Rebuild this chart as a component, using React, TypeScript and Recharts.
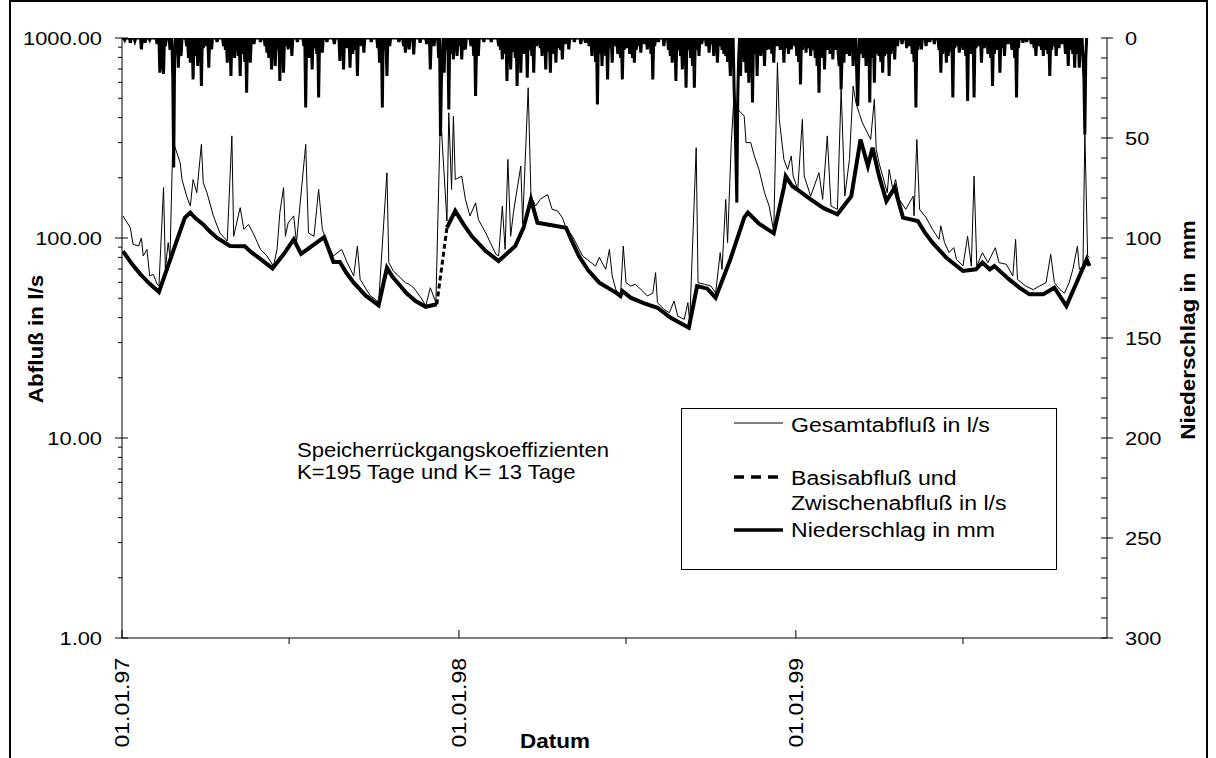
import React from "react";
import { LineChart, Line, XAxis, YAxis } from "recharts";

const W = 1216;
const H = 758;
// plot frame in page pixels
const PL = 122;
const PR = 1107;
const PT = 38;
const PB = 638;
const FONT = "'Liberation Sans', Arial, Helvetica, sans-serif";

// x = days since 01.01.1997
const totalDays = [
  1, 9, 12, 18, 21, 23, 27, 30, 34, 38, 40, 45, 47, 50, 52, 55, 57, 63, 65, 70, 74, 77, 81, 86, 88, 92, 99, 106, 114, 119,
  121, 128, 132, 137, 142, 150, 157, 164, 168, 171, 175, 177, 180, 186, 189, 199, 202, 208, 213, 217, 222, 229, 238, 244,
  251, 255, 258, 269, 273, 278, 287, 289, 294, 307, 311, 316, 325, 329, 334, 340, 345, 352, 354, 357, 359, 361, 368, 372,
  377, 383, 386, 394, 405, 408, 412, 415, 418, 421, 424, 432, 434, 440, 443, 448, 453, 461, 466, 472, 477, 481, 488, 499,
  513, 517, 524, 528, 531, 535, 540, 543, 546, 551, 556, 564, 569, 575, 578, 580, 587, 593, 598, 602, 609, 613, 615, 622,
  624, 631, 638, 643, 648, 650, 654, 656, 660, 663, 667, 674, 676, 681, 685, 690, 696, 701, 706, 710, 712, 717, 721, 725,
  727, 732, 737, 739, 746, 755, 759, 764, 768, 775, 779, 783, 788, 792, 795, 799, 802, 811, 815, 817, 820, 826, 829, 831,
  835, 838, 842, 849, 857, 858, 861, 864, 871, 878, 885, 887, 891, 896, 901, 904, 911, 916, 920, 923, 926, 932, 938, 946,
  950, 958, 965, 968, 970, 979, 987, 994, 1001, 1006, 1010, 1016, 1021, 1026, 1030, 1035, 1037, 1041, 1043, 1046, 1048,
];
const totalFlow = [
  129, 112.6, 93, 91.2, 100, 81.3, 87.7, 64.6, 65.8, 58.7, 57.5, 178.6, 69.7, 94.8, 80, 300, 288, 238, 196, 162, 144.5, 196,
  168.5, 294, 189, 168.5, 129, 106, 96.6, 324, 102, 141.8, 110.5, 117, 106, 87.7, 81.3, 72.4, 87.7, 134, 178.6, 102, 119,
  129, 94.8, 294, 106, 102, 175, 110.5, 94.8, 81.3, 87.7, 75.3, 64.6, 91.2, 62.1, 51.3, 50, 47.5, 212, 75.3, 68.4, 59.8,
  58.7, 56.4, 49.4, 45.7, 56.4, 47.5, 420, 121.6, 423, 175, 407, 196, 204, 156, 129, 150, 124, 106, 82.9, 81.3, 144.5, 87.7,
  247, 102, 134, 229, 118, 564, 162, 144.5, 156, 165, 139, 136.5, 126.4, 112.6, 102, 81.3, 72.4, 80, 69.7, 87.7, 64.6, 55.2,
  51.3, 91.2, 59.8, 57.5, 58.7, 54.3, 51.3, 53, 67.1, 47.5, 44, 42.3, 48.4, 40.7, 39.2, 47.5, 38, 283, 59.8, 58.7, 57.5, 53,
  84.5, 69.7, 156, 94.8, 300, 520, 440, 407, 300, 300, 257, 220, 168.5, 144.5, 108, 753, 392, 247, 220, 257, 204, 175, 392,
  204, 162, 212, 156, 324, 144.5, 139, 554, 162, 247, 575, 475, 415, 377, 311, 494, 277, 238, 189, 168.5, 220, 175, 196, 156,
  139, 162, 129, 311, 139, 126.4, 110.5, 98.5, 115, 94.8, 84.5, 89.5, 78.2, 72.4, 102, 72.4, 204, 72.4, 84.5, 75.3, 89.5,
  75.3, 73.9, 64.6, 98.5, 62.1, 57.5, 55.2, 57.5, 59.8, 82.9, 59.8, 55.2, 53, 59.8, 69.7, 91.2, 69.7, 72.4, 340, 81.3, 80,
];

// base flow (thick); null = gap where the dashed segment takes over
const baseDays = [
  1, 10, 20, 30, 40, 68, 74, 80, 88, 95, 103, 117, 133, 140, 148, 163, 175, 186, 194, 219, 229, 236, 243, 251, 264, 278,
  287, 293, 300, 308, 318, 329, 341, 346, 352, 361, 370, 379, 394, 408, 426, 435, 443, 450, 481, 488, 495, 505, 517, 535,
  540, 542, 551, 565, 580, 594, 614, 623, 634, 643, 659, 674, 678, 690, 706, 717, 719, 726, 735, 746, 760, 775, 790, 800,
  808, 813, 820, 828, 837, 846, 862, 870, 878, 893, 911, 925, 932, 940, 945, 961, 972, 983, 998, 1010, 1023, 1045, 1048,
];
const baseFlow = [
  86, 75, 65.8, 59, 53.7, 126, 134, 125, 117, 108, 100, 91.2, 91, 85, 79.7, 70.5, 82.9, 98.5, 83.3, 101, 75.9, 75.9, 67,
  59.8, 51.5, 46.1, 71, 64, 58.7, 53, 48.4, 45.3, 46.6, null, 112.6, 136.5, 117, 102, 86.1, 76.7, 91.2, 112.6, 156, 119.3,
  112.6, 95, 81.3, 69, 59.8, 53.3, 51.3, 54.3, 50.3, 47.3, 44.8, 40, 35.6, 57.5, 55.8, 50.3, 78.2, 126.4, 134, 118, 105.5,
  178.5, 204, 182, 170, 156, 141, 131.4, 162, 311, 229, 283, 205, 153, 178.5, 126.4, 121.6, 106, 94.8, 79.7, 68.4, 69.7,
  75.3, 69.7, 72.4, 62.1, 56.5, 52.3, 52.3, 56.4, 45.7, 78.2, 72.4,
];

// dashed segment (Dec 1997)
const interDays = [341, 352];
const interFlow = [46.6, 112.6];

// daily precipitation [day, mm], only rainy days listed
const rain: [number, number][] = [
  [3, 1], [9, 2.3], [14, 1.5], [21, 5.7], [25, 2.3], [30, 1], [38, 3], [41, 17.3], [42, 12], [44, 8], [45, 18], [47, 4],
  [52, 6], [55, 20], [56, 64.8], [57, 10], [59, 6], [61, 14.8], [63, 5], [64, 9], [70, 4], [72, 10], [74, 12.3], [75, 8],
  [77, 20.7], [79, 9], [80, 6], [82, 14], [84, 7], [86, 24], [88, 5], [91, 4], [94, 14.8], [97, 5.7], [103, 2], [110, 4],
  [112, 6], [114, 12.3], [116, 8], [118, 19], [120, 6], [122, 10], [124, 5.7], [126, 9], [128, 19], [130, 8], [133, 12],
  [135, 27.3], [137, 8], [139, 12.3], [143, 3], [150, 2], [155, 4], [157, 7.3], [159, 10], [162, 15.7], [164, 8], [166, 14],
  [168, 6], [171, 21.5], [173, 10], [175, 17.3], [177, 4], [180, 5.7], [184, 9], [190, 2], [197, 4], [199, 34.8], [201, 6],
  [203, 10], [206, 15.7], [208, 5], [211, 8], [213, 29.8], [215, 4], [217, 7.3], [222, 2], [230, 3], [236, 11.5], [238, 6],
  [240, 15.7], [243, 5], [247, 14.8], [250, 8], [252, 6], [255, 19], [258, 4], [262, 7.3], [270, 2], [277, 5], [279, 12.3],
  [280, 8], [282, 34.8], [284, 6], [287, 19], [290, 4], [300, 2], [305, 4], [307, 7.3], [311, 5.7], [316, 8.2], [323, 2.3],
  [330, 3], [334, 15.7], [338, 4], [343, 10], [345, 49], [346, 22], [347, 9], [349, 17.3], [351, 6], [354, 35.7], [356, 8],
  [359, 10.7], [361, 5], [363, 9], [366, 4], [368, 10.7], [370, 6], [372, 5.7], [378, 4], [381, 9], [383, 29], [384, 6],
  [386, 9], [392, 2], [400, 2], [408, 4], [410, 6], [412, 10.7], [415, 8], [417, 21.5], [419, 9], [421, 15.7], [424, 7],
  [426, 10], [428, 24], [430, 9], [432, 17.3], [435, 8], [437, 5], [439, 19.8], [441, 6], [444, 9], [446, 17.3], [449, 4],
  [453, 5], [455, 9], [457, 4], [459, 15.7], [461, 7], [464, 17.3], [466, 5], [468, 8], [470, 12.3], [472, 5], [475, 6],
  [477, 10.7], [480, 3], [484, 5.7], [490, 2], [497, 3], [502, 2.3], [506, 4], [509, 9], [511, 6], [513, 12], [515, 33.2],
  [517, 8], [520, 14], [522, 6], [524, 9], [526, 20.7], [528, 5], [531, 12.3], [534, 4], [537, 8], [540, 10], [542, 20.7],
  [544, 6], [547, 5], [550, 8], [553, 10], [555, 12.3], [557, 6], [560, 4], [562, 7.3], [566, 3], [569, 5.7], [573, 8],
  [575, 20.7], [577, 4], [581, 2], [587, 4], [592, 6], [594, 9], [596, 12.3], [598, 8], [600, 21.5], [602, 6], [605, 9],
  [607, 15.7], [609, 7], [611, 24.8], [613, 6], [616, 10], [618, 14], [620, 24.8], [622, 6], [625, 9], [628, 3], [633, 4],
  [636, 7.3], [638, 3], [641, 9], [643, 6], [645, 12.3], [647, 4], [650, 6], [652, 8], [654, 9], [656, 12], [658, 8],
  [659, 19], [661, 14], [663, 24], [664, 40], [665, 60], [666, 82.3], [667, 30], [668, 10], [670, 19], [672, 8], [674, 12],
  [676, 17.3], [677, 9], [679, 22.3], [681, 10], [683, 32.3], [685, 8], [688, 19], [690, 6], [692, 9], [694, 5], [696, 14],
  [698, 6], [701, 5.7], [704, 8], [706, 12.3], [710, 4], [713, 6], [717, 12.3], [720, 5], [722, 8], [725, 5.7], [729, 4],
  [731, 9], [733, 12], [735, 23.2], [737, 6], [741, 7.3], [744, 5], [746, 9], [749, 6], [751, 10], [753, 14], [755, 27.3],
  [757, 8], [759, 10], [761, 15.7], [764, 6], [767, 8], [770, 10.7], [773, 6], [776, 9], [777, 14], [779, 25.7], [780, 9],
  [782, 12.3], [785, 8], [788, 9], [790, 6], [792, 14], [794, 8], [796, 20], [797, 34], [798, 12], [800, 8], [803, 10],
  [806, 14], [808, 9], [810, 32.3], [812, 10], [815, 22.3], [817, 8], [820, 9], [822, 12], [824, 17.3], [826, 9], [829, 8],
  [831, 19], [833, 8], [835, 6], [837, 10.7], [840, 4], [845, 3], [850, 5], [853, 4], [856, 8], [858, 12], [860, 34.8],
  [862, 6], [864, 3], [866, 5.7], [871, 4], [875, 2], [880, 3], [885, 6], [887, 17.3], [889, 8], [891, 6], [893, 12.3],
  [895, 9], [898, 7], [900, 29.8], [902, 5], [904, 4], [907, 7.3], [911, 6], [914, 9], [916, 31.5], [918, 6], [920, 8],
  [923, 29.8], [925, 5], [928, 4], [931, 12.3], [934, 5], [938, 8], [941, 10], [943, 24], [945, 8], [948, 6], [951, 17.3],
  [953, 5], [956, 9], [960, 3], [964, 6], [967, 10], [969, 29.8], [971, 5], [976, 2.3], [980, 2], [985, 3], [988, 5],
  [990, 9], [993, 4], [996, 6], [998, 9], [1001, 6], [1003, 8], [1005, 19], [1007, 6], [1010, 4], [1012, 9], [1015, 5],
  [1018, 3], [1022, 8], [1025, 14], [1027, 6], [1030, 8], [1032, 14.8], [1034, 8], [1037, 14.8], [1039, 5], [1041, 10],
  [1042, 20], [1043, 48.2], [1044, 10],
];
const rainLastDay = 1046;

const dayTicks = [0, 181, 365, 546, 730, 911];
const yearTicks = [0, 365, 730];
const yearLabels = ["01.01.97", "01.01.98", "01.01.99"];
const flowTicks = [
  1, 2, 3, 4, 5, 6, 7, 8, 9, 10, 20, 30, 40, 50, 60, 70, 80, 90, 100, 200, 300, 400, 500, 600, 700, 800, 900, 1000,
];
const flowMajor = [1, 10, 100, 1000];
const rainTicks = [
  0, 10, 20, 30, 40, 50, 60, 70, 80, 90, 100, 110, 120, 130, 140, 150, 160, 170, 180, 190, 200, 210, 220, 230, 240, 250, 260,
  270, 280, 290, 300,
];

const totalData = totalDays.map((day, i) => ({ day, q: totalFlow[i] }));
const baseData = baseDays.map((day, i) => ({ day, q: baseFlow[i] }));
const interData = interDays.map((day, i) => ({ day, q: interFlow[i] }));
const rainMap = new Map(rain);
const rainData = Array.from({ length: rainLastDay + 1 }, (_, day) => ({ day, p: rainMap.get(day) ?? 0 }));

function Txt(props: any) {
  const { x, y, size, bold, anchor = "start", rotate = 0, stretch = 1, children } = props;
  return (
    <g transform={`translate(${x},${y}) rotate(${rotate}) scale(${stretch},1)`}>
      <text
        x={0}
        y={0}
        fontFamily={FONT}
        fontSize={size}
        fontWeight={bold ? "bold" : "normal"}
        textAnchor={anchor}
        fill="#000"
        style={{ whiteSpace: "pre" }}
      >
        {children}
      </text>
    </g>
  );
}

const FlowTick = (props: any) => {
  const { y, payload } = props;
  const v = payload.value;
  const major = flowMajor.includes(v);
  return (
    <g>
      <line x1={major ? PL - 7 : PL - 4} x2={major ? PL + 6 : PL} y1={y} y2={y} stroke="#000" />
      {major && (
        <Txt x={102} y={y + 7} size={19} stretch={1.15} anchor="end">
          {v.toFixed(2)}
        </Txt>
      )}
    </g>
  );
};

const RainTick = (props: any) => {
  const { y, payload } = props;
  const v = payload.value;
  const major = v % 50 === 0;
  return (
    <g>
      <line x1={PR - 6} x2={major ? PR + 6 : PR} y1={y} y2={y} stroke="#000" />
      {major && (
        <Txt x={1125} y={y + 7} size={19} stretch={1.15}>
          {String(v)}
        </Txt>
      )}
    </g>
  );
};

const DayTick = (props: any) => {
  const { x, payload } = props;
  const idx = yearTicks.indexOf(payload.value);
  const major = idx >= 0;
  return (
    <g>
      <line x1={x} x2={x} y1={major ? PB - 8 : PB} y2={major ? PB : PB + 6} stroke="#000" />
      {major && (
        <Txt x={x + 7} y={PB + 20} size={20} stretch={1.15} rotate={-90} anchor="end">
          {yearLabels[idx]}
        </Txt>
      )}
    </g>
  );
};

export default function App() {
  return (
    <div style={{ position: "absolute", left: 0, top: 0, width: W, height: H, background: "#fff" }}>
      <LineChart width={W} height={H} margin={{ top: PT, right: 29, bottom: 20, left: 22 }}>
        <XAxis
          dataKey="day"
          type="number"
          domain={[0, 1067]}
          ticks={dayTicks}
          interval={0}
          height={100}
          allowDataOverflow
          tickLine={false}
          axisLine={{ stroke: "#000" }}
          tick={<DayTick />}
        />
        <YAxis
          yAxisId="q"
          scale="log"
          domain={[1, 1000]}
          ticks={flowTicks}
          interval={0}
          width={100}
          allowDataOverflow
          tickLine={false}
          axisLine={{ stroke: "#000" }}
          tick={<FlowTick />}
        />
        <YAxis
          yAxisId="p"
          orientation="right"
          domain={[0, 300]}
          reversed
          ticks={rainTicks}
          interval={0}
          width={80}
          allowDataOverflow
          tickLine={false}
          axisLine={{ stroke: "#000" }}
          tick={<RainTick />}
        />
        <Line
          yAxisId="q"
          data={totalData}
          dataKey="q"
          type="linear"
          stroke="#000"
          strokeWidth={1}
          dot={false}
          isAnimationActive={false}
        />
        <Line
          yAxisId="q"
          data={baseData}
          dataKey="q"
          type="linear"
          stroke="#000"
          strokeWidth={4}
          dot={false}
          connectNulls={false}
          isAnimationActive={false}
        />
        <Line
          yAxisId="q"
          data={interData}
          dataKey="q"
          type="linear"
          stroke="#000"
          strokeWidth={3}
          strokeDasharray="5 3"
          dot={false}
          isAnimationActive={false}
        />
        <Line
          yAxisId="p"
          data={rainData}
          dataKey="p"
          type="linear"
          stroke="#000"
          strokeWidth={3}
          dot={false}
          isAnimationActive={false}
        />
      </LineChart>

      <svg width={W} height={H} style={{ position: "absolute", left: 0, top: 0, pointerEvents: "none" }}>
        <rect x={10} y={1} width={1197} height={780} fill="none" stroke="#000" strokeWidth={2} />

        <Txt x={43} y={339} size={21} bold rotate={-90} anchor="middle" stretch={1.07}>
          Abfluß in l/s
        </Txt>
        <Txt x={1195} y={330} size={21} bold rotate={-90} anchor="middle" stretch={1.07}>
          {"Niederschlag in  mm"}
        </Txt>
        <Txt x={555} y={748} size={21} bold anchor="middle" stretch={1.07}>
          Datum
        </Txt>

        <Txt x={297} y={457} size={21} stretch={1.05}>
          Speicherrückgangskoeffizienten
        </Txt>
        <Txt x={297} y={479} size={21} stretch={1.05}>
          {"K=195 Tage und K= 13 Tage"}
        </Txt>

        <rect x={681.5} y={408.5} width={375} height={161} fill="#fff" stroke="#000" strokeWidth={1} />
        <line x1={734} x2={783} y1={423} y2={423} stroke="#000" strokeWidth={1} />
        <Txt x={791} y={432} size={21} stretch={1.1}>
          Gesamtabfluß in l/s
        </Txt>
        <line x1={734} x2={783} y1={477} y2={477} stroke="#000" strokeWidth={3.5} strokeDasharray="10 7" />
        <Txt x={791} y={485} size={21} stretch={1.1}>
          Basisabfluß und
        </Txt>
        <Txt x={791} y={510} size={21} stretch={1.1}>
          Zwischenabfluß in l/s
        </Txt>
        <line x1={734} x2={783} y1={530} y2={530} stroke="#000" strokeWidth={3.5} />
        <Txt x={791} y={537} size={21} stretch={1.1}>
          Niederschlag in mm
        </Txt>
      </svg>
    </div>
  );
}
